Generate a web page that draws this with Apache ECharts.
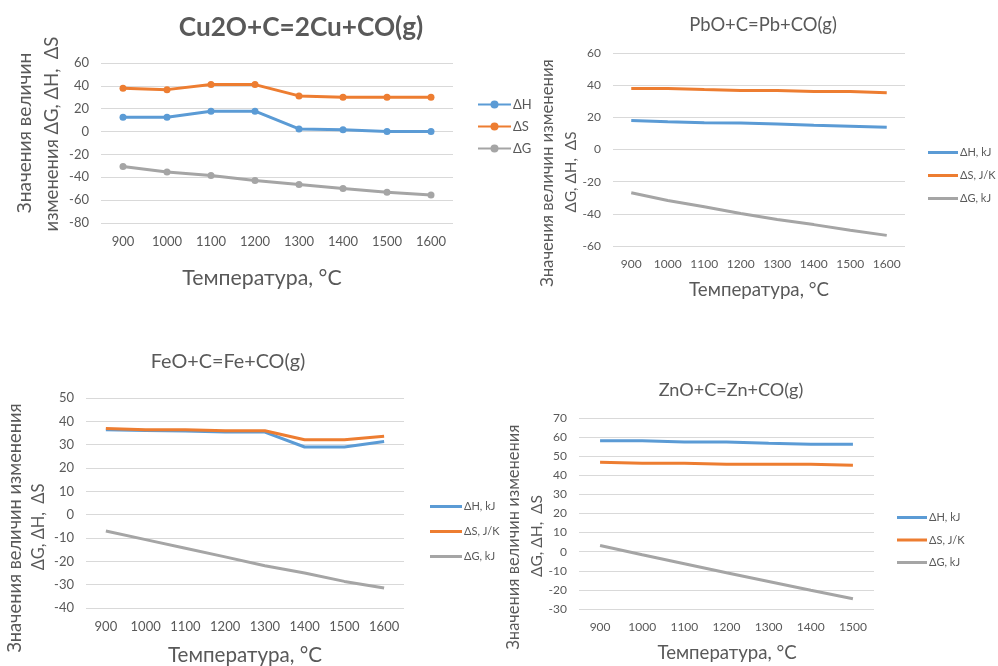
<!DOCTYPE html>
<html><head><meta charset="utf-8">
<script src="https://cdn.jsdelivr.net/npm/echarts@6/dist/echarts.min.js"></script>
<style>html,body{margin:0;padding:0;background:#fff}#c{width:998px;height:666px}</style>
</head><body><div id="c"></div>
<script>
// ---- data ----
const temps8 = ['900','1000','1100','1200','1300','1400','1500','1600'];
const temps7 = ['900','1000','1100','1200','1300','1400','1500'];

const cu_dH = [12.5, 12.5, 17.8, 17.8, 2.3, 1.5, 0, 0];
const cu_dS = [37.9, 36.7, 41.1, 41.1, 31.2, 30, 30, 30];
const cu_dG = [-30.6, -35.3, -38.5, -42.9, -46.4, -49.9, -53.1, -55.4];

const pb_dH = [18, 17.2, 16.6, 16.4, 15.8, 15.1, 14.5, 13.9];
const pb_dS = [38, 38, 37.3, 36.7, 36.7, 36.1, 36.1, 35.3];
const pb_dG = [-26.9, -31.7, -35.6, -39.8, -43.5, -46.7, -50.2, -53.4];

const fe_dH = [36.4, 36.1, 35.9, 35.4, 35.4, 29, 29, 31.4];
const fe_dS = [36.9, 36.4, 36.4, 36, 36, 32.1, 32.1, 33.6];
const fe_dG = [-7, -10.7, -14.4, -18.1, -21.9, -25, -28.6, -31.4];

const zn_dH = [58.1, 58.1, 57.4, 57.4, 56.8, 56.3, 56.3];
const zn_dS = [46.8, 46.3, 46.3, 45.8, 45.8, 45.8, 45.3];
const zn_dG = [3.2, -1.6, -6.3, -11, -15.6, -20.2, -24.6];

const namesA = ['ΔH', 'ΔS', 'ΔG'];
const namesB = ['ΔH, kJ', 'ΔS, J/K', 'ΔG, kJ'];
const titles = ['Cu2O+C=2Cu+CO(g)', 'PbO+C=Pb+CO(g)', 'FeO+C=Fe+CO(g)', 'ZnO+C=Zn+CO(g)'];
const xName = 'Температура, °C';
const yName1 = 'Значения величин';
const yName1b = 'изменения ΔG, ΔH,  ΔS';
const yName2 = 'Значения величин изменения';
const yName2b = 'ΔG, ΔH,  ΔS';

// ---- styling ----
const COLORS = ['#5B9BD5', '#ED7D31', '#A5A5A5'];
const TXT = '#595959';
const GRID = '#D9D9D9';
const FONT = 'Lato, "Noto Sans", sans-serif';

const cv = document.createElement('canvas').getContext('2d');
function fitSize(text, target, bold) {
  cv.font = (bold ? 'bold ' : '') + '100px ' + FONT;
  const w = cv.measureText(text).width;
  return Math.round(100 * target / w * 10) / 10;
}

const chart = echarts.init(document.getElementById('c'));

const grids = [
  {left: 101, top: 63, width: 352, height: 160},
  {left: 613, top: 53, width: 292, height: 193},
  {left: 86, top: 398, width: 318, height: 210},
  {left: 579, top: 418, width: 295, height: 191}
];
const yRanges = [[-80, 60, 20], [-60, 60, 20], [-40, 50, 10], [-30, 70, 10]];
const cats = [temps8, temps8, temps8, temps7];
const labelSize = [13, 12, 13, 12];

const xAxis = cats.map((c, i) => ({
  type: 'category', gridIndex: i, data: c, boundaryGap: true,
  axisLine: {show: false}, axisTick: {show: false},
  axisLabel: {color: TXT, fontSize: labelSize[i], fontFamily: FONT, margin: 12}
}));
const yAxis = yRanges.map((r, i) => ({
  type: 'value', gridIndex: i, min: r[0], max: r[1], interval: r[2],
  axisLine: {show: false}, axisTick: {show: false},
  axisLabel: {color: TXT, fontSize: labelSize[i], fontFamily: FONT, margin: 12},
  splitLine: {lineStyle: {color: GRID, width: 1}}
}));

const sets = [
  [cu_dH, cu_dS, cu_dG],
  [pb_dH, pb_dS, pb_dG],
  [fe_dH, fe_dS, fe_dG],
  [zn_dH, zn_dS, zn_dG]
];
const series = [];
sets.forEach((set, gi) => {
  set.forEach((d, si) => {
    const withMarker = gi === 0;
    series.push({
      type: 'line', name: (gi === 0 ? namesA : namesB)[si],
      xAxisIndex: gi, yAxisIndex: gi, data: d,
      color: COLORS[si],
      lineStyle: {color: COLORS[si], width: 3},
      itemStyle: {color: COLORS[si]},
      symbol: withMarker ? 'circle' : 'none',
      symbolSize: 7, showSymbol: withMarker,
      animation: false, silent: true
    });
  });
});

const legend = [
  {orient: 'vertical', left: 477, top: 98, itemGap: 9, itemWidth: 33, itemHeight: 10, padding: 0,
   data: namesA, selectedMode: false,
   textStyle: {color: TXT, fontSize: 13, fontFamily: FONT, padding: [0, 0, 0, -3]}},
  {orient: 'vertical', left: 928, top: 147, itemGap: 12, itemWidth: 30, itemHeight: 3, padding: 0,
   icon: 'rect', data: namesB, selectedMode: false,
   textStyle: {color: TXT, fontSize: 11, fontFamily: FONT, padding: [0, 0, 0, -3]}},
  {orient: 'vertical', left: 430, top: 501, itemGap: 14, itemWidth: 32, itemHeight: 3, padding: 0,
   icon: 'rect', data: namesB, selectedMode: false,
   textStyle: {color: TXT, fontSize: 11, fontFamily: FONT, padding: [0, 0, 0, -3]}},
  {orient: 'vertical', left: 897, top: 512, itemGap: 11.5, itemWidth: 30, itemHeight: 3, padding: 0,
   icon: 'rect', data: namesB, selectedMode: false,
   textStyle: {color: TXT, fontSize: 11, fontFamily: FONT, padding: [0, 0, 0, -3]}}
];

function txt(text, x, y, target, opts) {
  opts = opts || {};
  return {
    type: 'text', x: x, y: y, rotation: opts.rot ? Math.PI / 2 : 0, silent: true,
    style: {
      text: text, x: 0, y: 0, align: 'center', verticalAlign: 'middle',
      fill: TXT, fontSize: fitSize(text, target, opts.bold), fontFamily: FONT,
      fontWeight: opts.bold ? 'bold' : 'normal'
    }
  };
}
const graphic = [
  txt(titles[0], 301, 28, 245, {bold: true}),
  txt(titles[1], 763, 25, 148),
  txt(titles[2], 228, 362, 155),
  txt(titles[3], 731, 390, 145),
  txt(xName, 262, 278, 159),
  txt(xName, 759, 290, 140),
  txt(xName, 245, 655, 154),
  txt(xName, 727, 653, 139),
  txt(yName1, 25, 133, 160, {rot: true}),
  txt(yName1b, 52, 134, 195, {rot: true}),
  txt(yName2, 548, 173, 227, {rot: true}),
  txt(yName2b, 571, 172, 81, {rot: true}),
  txt(yName2, 15, 528, 250, {rot: true}),
  txt(yName2b, 39, 527, 87, {rot: true}),
  txt(yName2, 514, 537, 225, {rot: true}),
  txt(yName2b, 537, 536, 82, {rot: true})
];

chart.setOption({
  animation: false,
  backgroundColor: '#fff',
  grid: grids,
  xAxis: xAxis,
  yAxis: yAxis,
  legend: legend,
  series: series,
  graphic: graphic
});
</script>
</body></html>
